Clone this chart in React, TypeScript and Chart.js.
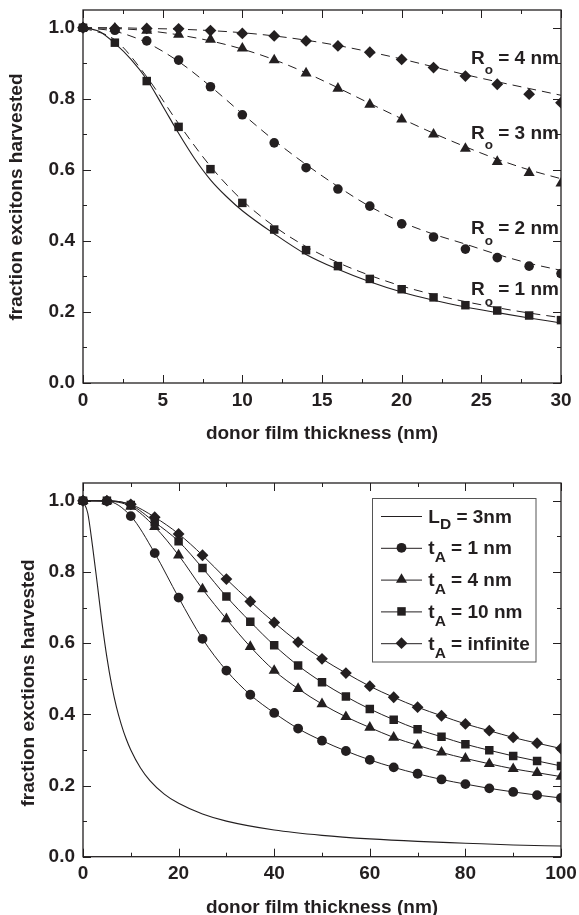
import React, { useEffect, useRef } from 'react';
import { Chart, registerables } from 'chart.js';
Chart.register(...registerables);

const FONT = '"Liberation Sans", Arial, Helvetica, sans-serif';
const INK = '#231f20';

// ---------- top chart data ----------
const topX = [0, 2, 4, 6, 8, 10, 12, 14, 16, 18, 20, 22, 24, 26, 28, 30];
const topR1 = [1.0, 0.958, 0.85, 0.721, 0.602, 0.507, 0.432, 0.374, 0.329, 0.293, 0.264, 0.241, 0.219, 0.204, 0.19, 0.177];
const topR2 = [1.0, 0.993, 0.963, 0.909, 0.834, 0.755, 0.676, 0.606, 0.546, 0.498, 0.448, 0.411, 0.377, 0.353, 0.329, 0.308];
const topR3 = [1.0, 0.998, 0.992, 0.981, 0.967, 0.942, 0.909, 0.872, 0.829, 0.784, 0.742, 0.7, 0.66, 0.623, 0.592, 0.562];
const topR4 = [1.0, 0.998, 0.998, 0.997, 0.992, 0.984, 0.977, 0.963, 0.949, 0.931, 0.911, 0.888, 0.864, 0.841, 0.813, 0.789];
const topFit1 = [1.0, 0.966, 0.862, 0.73, 0.61, 0.514, 0.441, 0.384, 0.339, 0.303, 0.273, 0.249, 0.229, 0.212, 0.197, 0.184];
const topFit2 = [1.0, 0.99, 0.958, 0.905, 0.835, 0.758, 0.683, 0.615, 0.553, 0.497, 0.453, 0.419, 0.391, 0.362, 0.337, 0.317];
const topFit3 = [1.0, 0.998, 0.992, 0.98, 0.963, 0.94, 0.91, 0.873, 0.831, 0.787, 0.744, 0.703, 0.665, 0.63, 0.6, 0.575];
const topFit4 = [1.0, 1.0, 0.998, 0.996, 0.992, 0.986, 0.977, 0.965, 0.95, 0.932, 0.912, 0.89, 0.868, 0.848, 0.829, 0.81];
const topBareX = [0, 1, 2, 3, 4, 5, 6, 7, 8, 9, 10, 12, 14, 16, 18, 20, 22, 24, 26, 28, 30];
const topBare = [1.0, 0.99, 0.956, 0.912, 0.855, 0.78, 0.703, 0.632, 0.572, 0.525, 0.485, 0.42, 0.362, 0.32, 0.285, 0.256, 0.233, 0.214, 0.198, 0.183, 0.169];
const topRo = ['4', '3', '2', '1'];
const topXMajor = [0, 5, 10, 15, 20, 25, 30];
const topXMinor = [2.5, 7.5, 12.5, 17.5, 22.5, 27.5];

// ---------- bottom chart data ----------
const botX = [0, 5, 10, 15, 20, 25, 30, 35, 40, 45, 50, 55, 60, 65, 70, 75, 80, 85, 90, 95, 100];
const botT1 = [1.0, 0.999, 0.957, 0.853, 0.728, 0.612, 0.523, 0.455, 0.404, 0.36, 0.326, 0.297, 0.272, 0.251, 0.233, 0.217, 0.204, 0.192, 0.182, 0.173, 0.165];
const botT4 = [1.0, 0.999, 0.984, 0.927, 0.847, 0.752, 0.668, 0.59, 0.523, 0.472, 0.429, 0.393, 0.363, 0.335, 0.313, 0.293, 0.276, 0.261, 0.247, 0.236, 0.225];
const botT10 = [1.0, 1.0, 0.988, 0.94, 0.886, 0.811, 0.731, 0.66, 0.594, 0.537, 0.49, 0.45, 0.415, 0.385, 0.358, 0.337, 0.316, 0.299, 0.283, 0.269, 0.255];
const botTInf = [1.0, 1.0, 0.99, 0.954, 0.907, 0.847, 0.78, 0.717, 0.658, 0.603, 0.556, 0.516, 0.479, 0.448, 0.42, 0.396, 0.373, 0.354, 0.335, 0.319, 0.304];
const botLDX = [0, 1, 2, 3, 4, 5, 6, 7, 8, 9, 10, 12, 14, 17, 20, 25, 30, 40, 50, 60, 70, 80, 90, 100];
const botLD = [1.0, 0.965, 0.872, 0.765, 0.655, 0.56, 0.482, 0.42, 0.372, 0.332, 0.3, 0.25, 0.214, 0.176, 0.15, 0.12, 0.1, 0.075, 0.06, 0.05, 0.043, 0.038, 0.033, 0.03];
const botXMajor = [0, 20, 40, 60, 80, 100];
const botXMinor = [10, 30, 50, 70, 90];
const legendMain = ['L', 't', 't', 't', 't'];
const legendSub = ['D', 'A', 'A', 'A', 'A'];
const legendRest = [' = 3nm', ' = 1 nm', ' = 4 nm', ' = 10 nm', ' = infinite'];
const legendStyle = ['none', 'circle', 'triangle', 'rect', 'rectRot'];

const yMajor = [0, 0.2, 0.4, 0.6, 0.8, 1.0];
const yMinor = [0.1, 0.3, 0.5, 0.7, 0.9];

const pts = (xs: number[], ys: number[]) => xs.map((x, i) => ({ x, y: ys[i] }));

const tickFont = { family: FONT, size: 19, weight: 'bold' as const, lineHeight: 1.1 };

function makeScales(xMax: number, xStep: number, xAxisH: number) {
  return {
    x: {
      type: 'linear' as const,
      min: 0,
      max: xMax,
      ticks: { stepSize: xStep, font: tickFont, color: INK, padding: 7, maxRotation: 0, autoSkip: false, callback: (v: any) => String(v) },
      grid: { display: false, drawTicks: false },
      border: { display: false },
      afterFit: (s: any) => { s.height = xAxisH; s.paddingLeft = 0; s.paddingRight = 0; },
    },
    y: {
      type: 'linear' as const,
      min: 0,
      max: 1.05,
      ticks: { stepSize: 0.2, includeBounds: false, font: tickFont, color: INK, padding: 8, callback: (v: any) => Number(v).toFixed(1) },
      grid: { display: false, drawTicks: false },
      border: { display: false },
      afterFit: (s: any) => { s.width = 83; s.paddingTop = 0; s.paddingBottom = 0; },
    },
  };
}

function drawMarker(ctx: CanvasRenderingContext2D, style: string, x: number, y: number, r: number) {
  ctx.beginPath();
  if (style === 'circle') {
    ctx.arc(x, y, r, 0, Math.PI * 2);
  } else if (style === 'rect') {
    const s = Math.SQRT1_2 * r;
    ctx.rect(x - s, y - s, 2 * s, 2 * s);
  } else if (style === 'triangle') {
    for (let k = 0; k < 3; k++) {
      const a = -Math.PI / 2 + k * (2 * Math.PI / 3);
      const px = x + Math.cos(a) * r;
      const py = y + Math.sin(a) * r;
      if (k === 0) ctx.moveTo(px, py); else ctx.lineTo(px, py);
    }
    ctx.closePath();
  } else if (style === 'rectRot') {
    ctx.moveTo(x, y - r); ctx.lineTo(x + r, y); ctx.lineTo(x, y + r); ctx.lineTo(x - r, y); ctx.closePath();
  }
  ctx.fill();
}

function drawSubText(ctx: CanvasRenderingContext2D, x: number, y: number, main: string, sub: string, rest: string, subSize: number, subDy: number) {
  ctx.textAlign = 'left';
  ctx.textBaseline = 'alphabetic';
  ctx.font = `bold 19px ${FONT}`;
  ctx.fillText(main, x, y);
  let cx = x + ctx.measureText(main).width;
  ctx.font = `bold ${subSize}px ${FONT}`;
  ctx.fillText(sub, cx, y + subDy);
  cx += ctx.measureText(sub).width;
  ctx.font = `bold 19px ${FONT}`;
  ctx.fillText(rest, cx, y);
}

function frameAndTicks(chart: any, xMajor: number[], xMinor: number[]) {
  const { ctx, chartArea } = chart;
  const { left, right, top, bottom } = chartArea;
  const xs = chart.scales.x;
  const ys = chart.scales.y;
  ctx.save();
  ctx.strokeStyle = INK;
  ctx.lineWidth = 1;
  ctx.beginPath();
  const seg = (x1: number, y1: number, x2: number, y2: number) => { ctx.moveTo(x1, y1); ctx.lineTo(x2, y2); };
  const xt = (vals: number[], len: number) => vals.forEach((v) => {
    const p = Math.round(xs.getPixelForValue(v)) + 0.5;
    seg(p, bottom, p, bottom - len);
    seg(p, top, p, top + len);
  });
  const yt = (vals: number[], len: number) => vals.forEach((v) => {
    const p = Math.round(ys.getPixelForValue(v)) + 0.5;
    seg(left, p, left + len, p);
    seg(right, p, right - len, p);
  });
  xt(xMajor, 8); xt(xMinor, 4); yt(yMajor, 8); yt(yMinor, 4);
  ctx.stroke();
  ctx.lineWidth = 1.3;
  ctx.strokeRect(left, top, right - left, bottom - top);
  ctx.restore();
}

function axisTitles(chart: any, xTitle: string, xBase: number, yTitle: string, yX: number, yC: number) {
  const { ctx, chartArea } = chart;
  ctx.save();
  ctx.fillStyle = INK;
  ctx.font = `bold 19px ${FONT}`;
  ctx.textAlign = 'center';
  ctx.textBaseline = 'alphabetic';
  ctx.fillText(xTitle, (chartArea.left + chartArea.right) / 2, xBase);
  ctx.translate(yX, yC);
  ctx.rotate(-Math.PI / 2);
  ctx.textBaseline = 'middle';
  ctx.fillText(yTitle, 0, 0);
  ctx.restore();
}

const clipR = { left: 12, top: 12, right: 0, bottom: 12 };

function topConfig(): any {
  const marker = (ys: number[], style: string, r: number) => ({
    data: pts(topX, ys), showLine: false, pointStyle: style, pointRadius: r,
    pointBackgroundColor: INK, pointBorderWidth: 0, order: 0, clip: clipR,
  });
  const dash = (ys: number[]) => ({
    data: pts(topX, ys), showLine: true, borderColor: INK, borderWidth: 1, borderDash: [9, 6],
    pointRadius: 0, cubicInterpolationMode: 'monotone', order: 1, clip: clipR,
  });
  return {
    type: 'scatter',
    data: {
      datasets: [
        { data: pts(topBareX, topBare), showLine: true, borderColor: INK, borderWidth: 1.1, pointRadius: 0, cubicInterpolationMode: 'monotone', order: 2, clip: clipR },
        dash(topFit1), dash(topFit2), dash(topFit3), dash(topFit4),
        marker(topR1, 'rect', 6), marker(topR2, 'circle', 4.8), marker(topR3, 'triangle', 6.4), marker(topR4, 'rectRot', 5.9),
      ],
    },
    options: {
      responsive: false, animation: false, devicePixelRatio: 1, events: [],
      layout: { padding: { left: 0, top: 10, right: 18, bottom: 0 } },
      plugins: { legend: { display: false }, tooltip: { enabled: false } },
      scales: makeScales(30, 5, 67),
    },
    plugins: [{
      id: 'topDeco',
      afterDraw(chart: any) {
        frameAndTicks(chart, topXMajor, topXMinor);
        axisTitles(chart, 'donor film thickness (nm)', 439, 'fraction excitons harvested', 17, 197);
        const ctx = chart.ctx;
        ctx.save();
        ctx.fillStyle = INK;
        const bases = [63.5, 138.5, 234, 295];
        topRo.forEach((r, i) => drawSubText(ctx, 471, bases[i], 'R', 'o', ` = ${r} nm`, 13.5, 10.5));
        ctx.restore();
      },
    }],
  };
}

function botConfig(): any {
  const series = (ys: number[], style: string, r: number) => ({
    data: pts(botX, ys), showLine: true, borderColor: INK, borderWidth: 1,
    pointStyle: style, pointRadius: r, pointBackgroundColor: INK, pointBorderWidth: 0,
    cubicInterpolationMode: 'monotone', clip: clipR,
  });
  return {
    type: 'scatter',
    data: {
      datasets: [
        { data: pts(botLDX, botLD), showLine: true, borderColor: INK, borderWidth: 1.1, pointRadius: 0, cubicInterpolationMode: 'monotone', clip: clipR },
        series(botT1, 'circle', 4.9),
        series(botT4, 'triangle', 6.4),
        series(botT10, 'rect', 6),
        series(botTInf, 'rectRot', 5.9),
      ],
    },
    options: {
      responsive: false, animation: false, devicePixelRatio: 1, events: [],
      layout: { padding: { left: 0, top: 33, right: 18, bottom: 0 } },
      plugins: { legend: { display: false }, tooltip: { enabled: false } },
      scales: makeScales(100, 20, 58.3),
    },
    plugins: [{
      id: 'botDeco',
      afterDraw(chart: any) {
        frameAndTicks(chart, botXMajor, botXMinor);
        axisTitles(chart, 'donor film thickness (nm)', 463, 'fraction exctions harvested', 29, 233);
        const ctx = chart.ctx;
        ctx.save();
        // legend box
        const bx = 372, by = 48, bw = 163.5, bh = 163.5;
        ctx.fillStyle = '#ffffff';
        ctx.fillRect(bx, by, bw, bh);
        ctx.strokeStyle = '#555';
        ctx.lineWidth = 1;
        ctx.strokeRect(bx + 0.5, by + 0.5, bw, bh);
        ctx.fillStyle = INK;
        ctx.strokeStyle = INK;
        const rad: Record<string, number> = { circle: 4.9, triangle: 6.4, rect: 6, rectRot: 5.9 };
        legendMain.forEach((m, i) => {
          const cy = 66 + i * 31.8;
          ctx.beginPath();
          ctx.lineWidth = 1;
          ctx.moveTo(381, cy + 0.5);
          ctx.lineTo(422, cy + 0.5);
          ctx.stroke();
          if (legendStyle[i] !== 'none') drawMarker(ctx, legendStyle[i], 401.5, cy, rad[legendStyle[i]]);
          drawSubText(ctx, 428.3, cy + 6.5, m, legendSub[i], legendRest[i], 15.5, i === 0 ? 6 : 8);
        });
        ctx.restore();
      },
    }],
  };
}

export default function App() {
  const topRef = useRef<HTMLCanvasElement>(null);
  const botRef = useRef<HTMLCanvasElement>(null);
  useEffect(() => {
    const c1 = new Chart(topRef.current as HTMLCanvasElement, topConfig());
    const c2 = new Chart(botRef.current as HTMLCanvasElement, botConfig());
    return () => { c1.destroy(); c2.destroy(); };
  }, []);
  return (
    <div style={{ position: 'absolute', left: 0, top: 0, width: 579, height: 915, background: '#fff' }}>
      <canvas ref={topRef} width={579} height={450} style={{ position: 'absolute', left: 0, top: 0, width: 579, height: 450 }} />
      <canvas ref={botRef} width={579} height={465} style={{ position: 'absolute', left: 0, top: 450, width: 579, height: 465 }} />
    </div>
  );
}
